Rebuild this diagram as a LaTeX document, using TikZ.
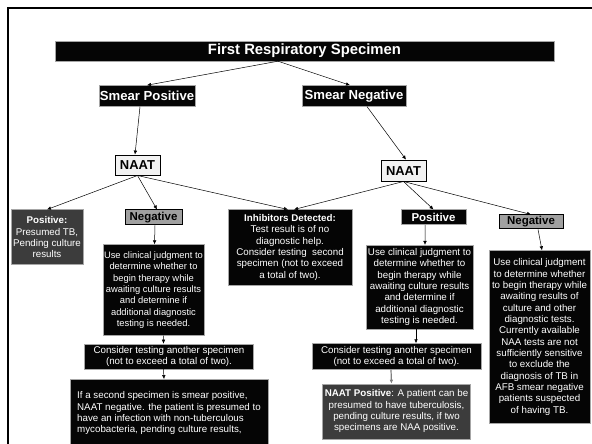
\documentclass[tikz,border=0pt]{standalone}
\usepackage{fontspec}
\setmainfont{Liberation Sans}
\usepackage{xcolor}
\usepackage{tikz}
\usetikzlibrary{arrows.meta, positioning}
\definecolor{boxblack}{HTML}{050505}
\definecolor{boxdark}{HTML}{3C3C3C}
\definecolor{boxgray}{HTML}{A0A0A0}
\definecolor{boxlight}{HTML}{F2F2F2}
\newcommand{\bodyfont}{\fontsize{9.8}{11.4}\selectfont}

\begin{document}
\begin{tikzpicture}[
  x=1bp, y=-1bp,
  every node/.style={font=\bodyfont, inner sep=2bp, align=center},
  blackbox/.style={
    rectangle, draw=gray!70, thin,
    fill=boxblack, text=white,
  },
  darkbox/.style={
    rectangle, draw=gray!70, thin,
    fill=boxdark, text=white,
  },
  graylabel/.style={
    rectangle, draw=black, line width=0.8bp,
    fill=boxgray, text=black, inner sep=1bp,
    font=\fontsize{11.5}{12}\selectfont\bfseries,
  },
  blacklabel/.style={
    blackbox, inner sep=1bp,
    font=\fontsize{11.5}{12}\selectfont\bfseries,
  },
  naatbox/.style={
    rectangle, draw=black, line width=0.9bp,
    fill=boxlight, inner sep=1bp,
    minimum width=45bp, minimum height=20bp,
    font=\fontsize{13}{14}\selectfont\bfseries,
  },
  smearbox/.style={
    blackbox, inner sep=1bp, minimum height=21bp,
    font=\fontsize{13.2}{14}\selectfont\bfseries,
  },
  arrow/.style={-{Latex[length=4bp,width=3.6bp]}, line width=0.5bp, color=black},
]
\useasboundingbox (0,0) rectangle (592,444);

% slide frame
\draw[line width=2.6bp] (8,444) -- (8,8) -- (592,8);

\node[blackbox, minimum width=499bp, minimum height=20bp, inner sep=1bp,
      font=\fontsize{14.9}{16}\selectfont\bfseries] (specimen) at (304.5,51) {First Respiratory Specimen};
\node[smearbox, minimum width=94bp,  below=24bp of specimen, xshift=-157.5bp] (smearpos) {Smear Positive};
\node[smearbox, minimum width=104bp, below=24bp of specimen, xshift=49.5bp]   (smearneg) {Smear Negative};
\node[naatbox, below=48bp of smearpos, xshift=-9.5bp] (naatpos1) {NAAT};
\node[naatbox, below=53bp of smearneg, xshift=49.5bp, minimum height=21bp] (naatneg1) {NAAT};

% smear positive branch
\node[darkbox, minimum width=72bp, minimum height=55bp, below=34bp of naatpos1, xshift=-90.5bp] (presumed)
  {\textbf{Positive:}\\Presumed TB,\\Pending culture\\results};
\node[graylabel, minimum width=57bp, minimum height=15bp, below=34bp of naatpos1, xshift=16bp] (negleft) {Negative};
\node[blackbox, minimum width=100bp, minimum height=91bp, inner xsep=1bp, font=\fontsize{9.4}{11.4}\selectfont,
      below=19bp of negleft] (judgeleft)
  {Use clinical judgment to\\determine whether to\\begin therapy while\\awaiting culture results\\and determine if\\additional diagnostic\\testing is needed.};
\node[blackbox, minimum width=169bp, minimum height=25bp, below=8bp of judgeleft, xshift=15.5bp] (retestleft)
  {Consider testing another specimen\\(not to exceed a total of two).};
\node[blackbox, minimum width=198bp, minimum height=68bp, align=left,
      below=10bp of retestleft] (secondspec)
  {If a second specimen is smear positive,\\NAAT negative. the patient is presumed to\\have an infection with non-tuberculous\\mycobacteria, pending culture results,};

% inhibitors
\node[blackbox, minimum width=124bp, minimum height=75bp, below=34bp of naatpos1, xshift=152.5bp] (inhib)
  {\textbf{Inhibitors Detected:}\\Test result is of no\\diagnostic help.\\Consider testing~ second\\specimen (not to exceed\\a total of two).};

% smear negative branch
\node[blacklabel, minimum width=65bp, minimum height=15bp, below=28bp of naatneg1, xshift=30bp] (posright) {Positive};
\node[blackbox, minimum width=107bp, minimum height=84bp, inner xsep=1bp,
      below=20bp of posright, xshift=-14bp] (judgeright)
  {Use clinical judgment to\\determine whether to\\begin therapy while\\awaiting culture results\\and determine if\\additional diagnostic\\testing is needed.};
\node[blackbox, minimum width=169bp, minimum height=26bp, below=14bp of judgeright, xshift=-23bp] (retestright)
  {Consider testing another specimen\\(not to exceed a total of two).};
\node[darkbox, minimum width=148bp, minimum height=55bp, below=14bp of retestright] (naatpos2)
  {\textbf{NAAT Positive}: A patient can be\\presumed to have tuberculosis,\\pending culture results, if two\\specimens are NAA positive.};
\node[graylabel, minimum width=64bp, minimum height=14bp, below=33bp of naatneg1, xshift=127.5bp] (negright) {Negative};
\node[blackbox, minimum width=101bp, minimum height=173bp, inner xsep=1bp,
      below=21bp of negright, xshift=8.5bp] (judgefar)
  {Use clinical judgment\\to determine whether\\to begin therapy while\\awaiting results of\\culture and other\\diagnostic tests.\\Currently available\\NAA tests are not\\sufficiently sensitive\\to exclude the\\diagnosis of TB in\\AFB smear negative\\patients suspected\\of having TB.};

% top split
\coordinate (split) at ([xshift=-26.5bp]specimen.south);
\draw[arrow] (split) -- (smearpos.north);
\draw[arrow] (split) -- ([xshift=-4bp]smearneg.north);
\draw[arrow] ([xshift=-7bp]smearpos.south) -- ([xshift=-2.5bp]naatpos1.north);
\draw[arrow] ([xshift=13bp]smearneg.south) -- ([xshift=2.5bp]naatneg1.north);

% NAAT results
\draw[arrow] (naatpos1.south) -- (presumed.north);
\draw[arrow] (naatpos1.south) -- ([xshift=3.5bp]negleft.north);
\draw[arrow] (naatpos1.south) -- ([xshift=-2bp]inhib.north);
\draw[arrow] (naatneg1.south) -- ([xshift=4bp]inhib.north);
\draw[arrow] (naatneg1.south) -- (posright.north);
\draw[arrow] (naatneg1.south) -- (negright.north);

% vertical flow
\draw[arrow] ([xshift=1.5bp]negleft.south) -- ([xshift=1bp]judgeleft.north);
\draw[arrow] ([xshift=10bp]judgeleft.south) -- ([xshift=-5.5bp]retestleft.north);
\draw[arrow] ([xshift=-5.5bp]retestleft.south) -- ([xshift=-5bp]secondspec.north);
\draw[arrow] ([xshift=-8.5bp]posright.south) -- ([xshift=5.5bp]judgeright.north);
\draw[arrow] ([xshift=-3.5bp]judgeright.south) -- ([xshift=19.5bp]retestright.north);
\draw[arrow, color=gray, line width=1.2bp] ([xshift=-5.5bp]retestright.south) -- ([xshift=-5bp]naatpos2.north);
\draw[arrow] ([xshift=7bp]negright.south) -- ([xshift=2.5bp]judgefar.north);

\end{tikzpicture}
\end{document}
